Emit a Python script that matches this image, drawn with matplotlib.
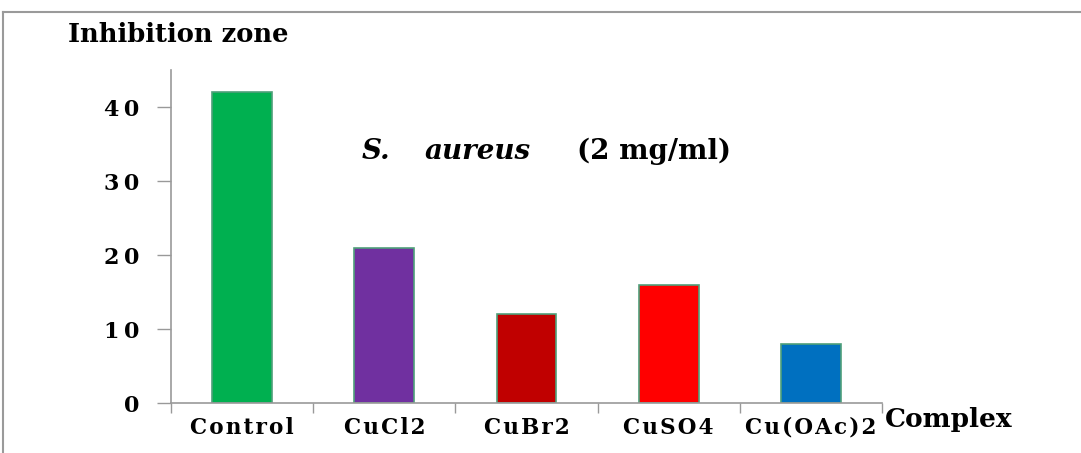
import matplotlib
matplotlib.use("Agg")
import matplotlib.pyplot as plt
from matplotlib.lines import Line2D

categories = ["Control", "CuCl2", "CuBr2", "CuSO4", "Cu(OAc)2"]
values = [42, 21, 12, 16, 8]
colors = ["#00B050", "#7030A0", "#C00000", "#FF0000", "#0070C0"]
yticks = [0, 10, 20, 30, 40]

W, H = 1081, 453
fig = plt.figure(figsize=(W / 100, H / 100), dpi=100)
plt.rcParams['font.family'] = ['DejaVu Serif']

def fx(px):
    return px / W

def fy(py):
    return 1 - py / H

def spaced(s, sep="\u2009"):
    return sep.join(s)

# outer frame (left and top edges visible)
frame_col = "#9a9a9a"
fig.add_artist(Line2D([fx(3), fx(3)], [fy(12), 0], transform=fig.transFigure, color=frame_col, lw=1.5))
fig.add_artist(Line2D([fx(3), 1.0], [fy(12), fy(12)], transform=fig.transFigure, color=frame_col, lw=1.5))

ax = fig.add_axes([fx(171), fy(403), fx(882) - fx(171), fy(70) - fy(403)])
x = list(range(len(categories)))
ax.bar(x, values, width=0.42, color=colors, edgecolor="#4f9f7a", linewidth=1.2, zorder=2)
ax.set_xlim(-0.5, len(categories) - 0.5)
ax.set_ylim(0, 45)

for s in ["top", "right"]:
    ax.spines[s].set_visible(False)
for s in ["left", "bottom"]:
    ax.spines[s].set_color("#999999")
    ax.spines[s].set_linewidth(1.2)

ax.set_yticks(yticks)
ax.set_yticklabels([spaced(str(v)) for v in yticks], fontsize=16, fontweight="bold")
ax.tick_params(axis="y", length=10, width=1, color="#999999", pad=13, direction="out")

# category boundary ticks on x axis
ax.set_xticks([i - 0.5 for i in range(len(categories) + 1)])
ax.set_xticklabels([])
ax.tick_params(axis="x", which="major", length=7, width=1, color="#999999", direction="out")
ax.set_xticks(x, minor=True)
ax.set_xticklabels([spaced(c, "\u200a") for c in categories], minor=True, fontsize=15.5, fontweight="bold")
ax.tick_params(axis="x", which="minor", length=0, pad=10)

# annotation text inside the plot
fig.text(fx(362), fy(159), "S.", fontsize=20, fontweight="bold", fontstyle="italic", va="baseline", ha="left")
fig.text(fx(425), fy(159), "aureus", fontsize=20, fontweight="bold", fontstyle="italic", va="baseline", ha="left")
fig.text(fx(577), fy(159), "(2 mg/ml)", fontsize=20, fontweight="bold", va="baseline", ha="left")

# axis titles
fig.text(fx(68), fy(42), "Inhibition zone", fontsize=18.5, fontweight="bold", va="baseline", ha="left")
fig.text(fx(885), fy(427), "Complex", fontsize=19, fontweight="bold", va="baseline", ha="left")

fig.savefig("out.png", dpi=100, facecolor="white")
